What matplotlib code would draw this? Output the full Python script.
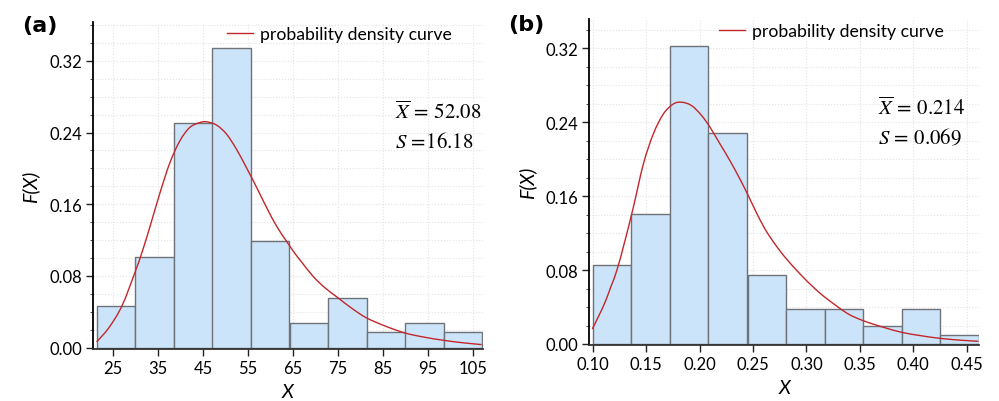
import matplotlib
matplotlib.use("Agg")
from matplotlib import pyplot as plt
from matplotlib.ticker import MultipleLocator
from matplotlib.path import Path
from matplotlib.patches import PathPatch
from matplotlib.lines import Line2D

plt.rcParams['font.family'] = ['Lato', 'DejaVu Sans']
plt.rcParams['mathtext.fontset'] = 'stix'

# (a) histogram
bin_left_a = [21.3, 29.9, 38.5, 47.0, 55.6, 64.2, 72.8, 81.4, 89.9, 98.5]
bin_width_a = 8.58
freq_a = [0.046, 0.101, 0.251, 0.334, 0.119, 0.027, 0.055, 0.018, 0.027, 0.018]
# (a) density curve
curve_x_a = [21.3, 24.0, 26.9, 29.8, 31.5, 33.2, 35.4, 37.6, 39.8, 42.0, 44.3, 45.8,
             48.0, 50.2, 52.4, 54.6, 56.9, 59.1, 61.3, 63.5, 65.4, 66.8, 69.4,
             72.0, 74.8, 78.0, 81.3, 85.5, 89.8, 94.0, 98.4, 102.6, 106.9]
curve_y_a = [0.0064, 0.022, 0.0462, 0.0835, 0.108, 0.1356, 0.1729, 0.2064, 0.2306,
             0.2456, 0.2512, 0.2519, 0.2482, 0.2381, 0.2213, 0.2009, 0.1785, 0.1562,
             0.1356, 0.1188, 0.105, 0.096, 0.0797, 0.067, 0.0562, 0.044, 0.0332,
             0.024, 0.0164, 0.0118, 0.0082, 0.0055, 0.0034]
xticks_a = [25, 35, 45, 55, 65, 75, 85, 95, 105]
stats_a = [r'$\overline{X}\,=\,52.08$', r'$S\,=\!16.18$']

# (b) histogram
bin_left_b = [0.100, 0.136, 0.172, 0.208, 0.245, 0.281, 0.317, 0.353, 0.389, 0.425]
bin_width_b = 0.0362
freq_b = [0.085, 0.141, 0.323, 0.228, 0.075, 0.0375, 0.0375, 0.019, 0.0375, 0.0093]
# (b) density curve
curve_x_b = [0.0996, 0.1055, 0.1115, 0.1170, 0.1225, 0.1300, 0.1380, 0.1474, 0.1567,
             0.1661, 0.1754, 0.1833, 0.1926, 0.2020, 0.2098, 0.2191, 0.2284, 0.2377,
             0.2456, 0.2528, 0.2612, 0.2700, 0.2800, 0.294, 0.306, 0.3174, 0.3377,
             0.3532, 0.372, 0.3892, 0.407, 0.425, 0.443, 0.4608]
curve_y_b = [0.0162, 0.030, 0.0451, 0.062, 0.0794, 0.111, 0.1479, 0.1948, 0.2273,
             0.2489, 0.2597, 0.2616, 0.2579, 0.2471, 0.2345, 0.2165, 0.1984, 0.1786,
             0.1605, 0.143, 0.1245, 0.109, 0.0938, 0.0758, 0.062, 0.0505, 0.0335,
             0.0252, 0.0181, 0.0126, 0.0090, 0.0061, 0.0042, 0.0029]
xticks_b = [0.10, 0.15, 0.20, 0.25, 0.30, 0.35, 0.40, 0.45]
stats_b = [r'$\overline{X}\,=\,0.214$', r'$S\,=\,0.069$']

bar_color = '#cce4f9'
edge_color = '#6e7379'
line_color = '#c3262b'


def smooth_path(xs, ys):
    # smooth line through the read points (Catmull-Rom as cubic Bezier)
    n = len(xs)
    pts = list(zip(xs, ys))
    verts = [pts[0]]
    codes = [Path.MOVETO]
    for i in range(n - 1):
        p0 = pts[i - 1] if i > 0 else pts[i]
        p1 = pts[i]
        p2 = pts[i + 1]
        p3 = pts[i + 2] if i + 2 < n else pts[i + 1]
        c1 = (p1[0] + (p2[0] - p0[0]) / 6, p1[1] + (p2[1] - p0[1]) / 6)
        c2 = (p2[0] - (p3[0] - p1[0]) / 6, p2[1] - (p3[1] - p1[1]) / 6)
        verts += [c1, c2, p2]
        codes += [Path.CURVE4] * 3
    return Path(verts, codes)


def panel(ax, lefts, width, freq, cx, cy, xticks, xfmt, xlim, ylim, stats, label,
          stat_x, label_x, label_y, leg_x):
    ax.set_axisbelow(True)
    ax.grid(True, which='both', axis='y', color='#e3e3e3', linestyle=':', linewidth=0.8)
    ax.grid(True, which='major', axis='x', color='#e3e3e3', linestyle=':', linewidth=0.8)
    ax.bar(lefts, freq, width=width, align='edge', color=bar_color,
           edgecolor=edge_color, linewidth=1.0, zorder=2)
    ax.add_patch(PathPatch(smooth_path(cx, cy), facecolor='none',
                           edgecolor=line_color, linewidth=1.0, zorder=3))
    ln = Line2D([], [], color=line_color, linewidth=1.0)
    ax.set_xlim(*xlim)
    ax.set_ylim(*ylim)
    ax.set_xticks(xticks)
    ax.set_xticklabels([xfmt.format(v) for v in xticks])
    ax.set_yticks([0.0, 0.08, 0.16, 0.24, 0.32])
    ax.set_yticklabels(['0.00', '0.08', '0.16', '0.24', '0.32'])
    ax.yaxis.set_minor_locator(MultipleLocator(0.02))
    ax.tick_params(axis='both', which='major', labelsize=12, length=5, width=1.0,
                   direction='out', color='#222222', pad=3)
    ax.tick_params(axis='y', which='minor', length=2, width=0.7, color='#555555')
    for s in ['top', 'right']:
        ax.spines[s].set_visible(False)
    ax.spines['left'].set_linewidth(1.3)
    ax.spines['bottom'].set_linewidth(1.3)
    ax.spines['bottom'].set_color('#333333')
    ax.set_xlabel('X', fontsize=14, fontstyle='italic', labelpad=5)
    ax.set_ylabel('F(X)', fontsize=14, fontstyle='italic', labelpad=7)
    ax.legend(handles=[ln], labels=['probability density curve'], loc='upper right',
              bbox_to_anchor=(leg_x, 1.035), frameon=False, fontsize=12.7,
              handlelength=1.5, handletextpad=0.4)
    ax.text(stat_x, 0.708, stats[0], transform=ax.transAxes, fontsize=15, ha='left')
    ax.text(stat_x, 0.618, stats[1], transform=ax.transAxes, fontsize=15, ha='left')
    ax.text(label_x, label_y, label, transform=ax.transAxes, fontsize=16,
            fontweight='bold', family='DejaVu Sans', va='center')


fig = plt.figure(figsize=(9.99, 4.02), dpi=100)
ax1 = fig.add_axes([0.0931, 0.1294, 0.3904, 0.8134])
ax2 = fig.add_axes([0.5899, 0.1393, 0.3901, 0.8110])

panel(ax1, bin_left_a, bin_width_a, freq_a, curve_x_a, curve_y_a, xticks_a, '{:d}',
      (20.5, 107.2), (-0.0015, 0.3633), stats_a, '(a)', 0.775, -0.182, 0.99, 0.9615)
panel(ax2, bin_left_b, bin_width_b, freq_b, curve_x_b, curve_y_b, xticks_b, '{:.2f}',
      (0.0968, 0.4615), (-0.0011, 0.3517), stats_b, '(b)', 0.742, -0.208, 0.985, 0.951)

plt.savefig('out.png', dpi=100)
